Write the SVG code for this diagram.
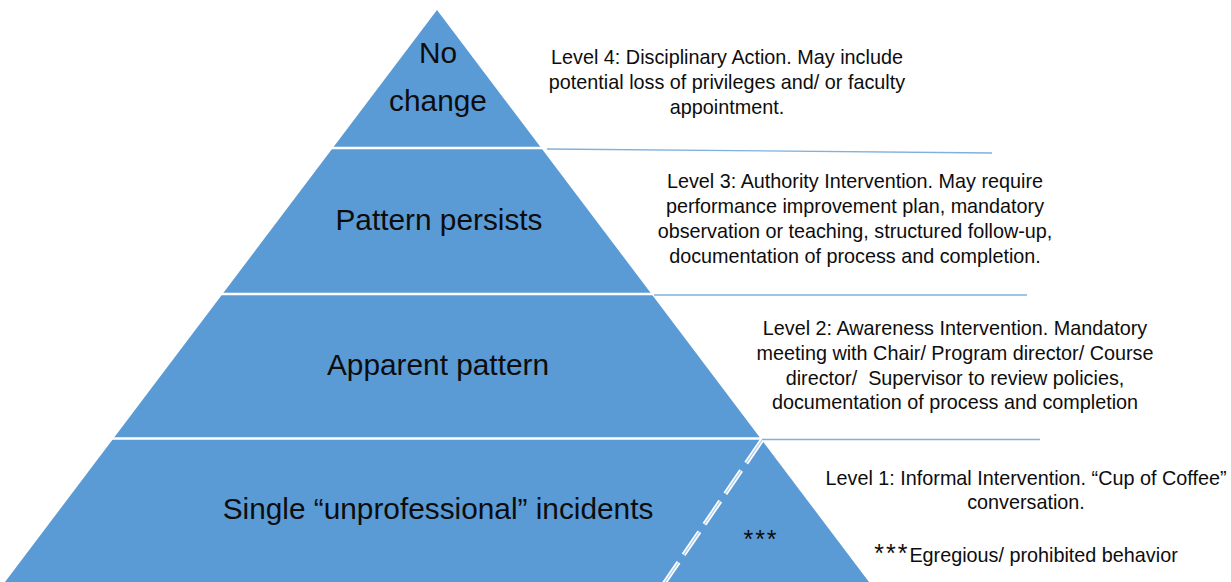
<svg xmlns="http://www.w3.org/2000/svg" width="1231" height="582" viewBox="0 0 1231 582">
<style>
.band{fill:#5B9BD5;stroke:none}
.sep{stroke:#FFFFFF;stroke-width:2.5;fill:none}
.big{font-family:"Liberation Sans",Arial,sans-serif;font-size:29.8px;fill:#0D0D0D;text-anchor:middle}
.txt{font-family:"Liberation Sans",Arial,sans-serif;font-size:19.8px;fill:#0D0D0D;text-anchor:middle}
.ast{font-size:25px;letter-spacing:2px}
.lvl{stroke:#7FB0DE;stroke-width:1.3;fill:none}
.dashw{stroke:#FFFFFF;stroke-width:4.5;stroke-dasharray:28 9;fill:none}
.dashb{stroke:#A9CBEB;stroke-width:1.2;stroke-dasharray:28 9;fill:none}
</style>
<rect width="1231" height="582" fill="#FFFFFF"/>
<g id="pyramid">
  <polygon class="band" points="437,10 869,582 5,582"/>
  <line class="sep" x1="300" y1="148" x2="580" y2="148"/>
  <line class="sep" x1="180" y1="294" x2="700" y2="294"/>
  <line class="sep" x1="90" y1="438.5" x2="790" y2="438.5"/>
</g>
<g id="level4">
  <text class="big" x="438" y="63">No</text>
  <text class="big" x="438" y="111">change</text>
  <text class="txt" x="727" y="64">Level 4: Disciplinary Action. May include</text>
  <text class="txt" x="727" y="89">potential loss of privileges and/ or faculty</text>
  <text class="txt" x="727" y="114">appointment.</text>
</g>
<g id="level3">
  <text class="big" x="439" y="230">Pattern persists</text>
  <text class="txt" x="855" y="188">Level 3: Authority Intervention. May require</text>
  <text class="txt" x="855" y="213">performance improvement plan, mandatory</text>
  <text class="txt" x="855" y="238">observation or teaching, structured follow-up,</text>
  <text class="txt" x="855" y="263">documentation of process and completion.</text>
</g>
<g id="level2">
  <text class="big" x="438" y="375">Apparent pattern</text>
  <text class="txt" x="955" y="335">Level 2: Awareness Intervention. Mandatory</text>
  <text class="txt" x="955" y="360">meeting with Chair/ Program director/ Course</text>
  <text class="txt" x="955" y="385">director/&#160; Supervisor to review policies,</text>
  <text class="txt" x="955" y="409">documentation of process and completion</text>
</g>
<g id="level1">
  <text class="big" x="438" y="519">Single “unprofessional” incidents</text>
  <text class="txt" x="1026" y="485">Level 1: Informal Intervention. “Cup of Coffee”</text>
  <text class="txt" x="1026" y="509">conversation.</text>
</g>
<g id="egregious">
  <text class="txt ast" x="761" y="548">***</text>
  <text class="txt" x="1026" y="562"><tspan class="ast">***</tspan><tspan>Egregious/ prohibited behavior</tspan></text>
</g>
<g id="connectors">
  <line class="lvl" x1="547" y1="149" x2="992" y2="153"/>
  <line class="lvl" x1="654" y1="295" x2="1027" y2="295"/>
  <line class="lvl" x1="762" y1="439.5" x2="1040" y2="439.5"/>
  <line class="dashw" x1="762" y1="440" x2="663" y2="585"/>
  <line class="dashb" x1="762" y1="440" x2="663" y2="585"/>
</g>
</svg>
